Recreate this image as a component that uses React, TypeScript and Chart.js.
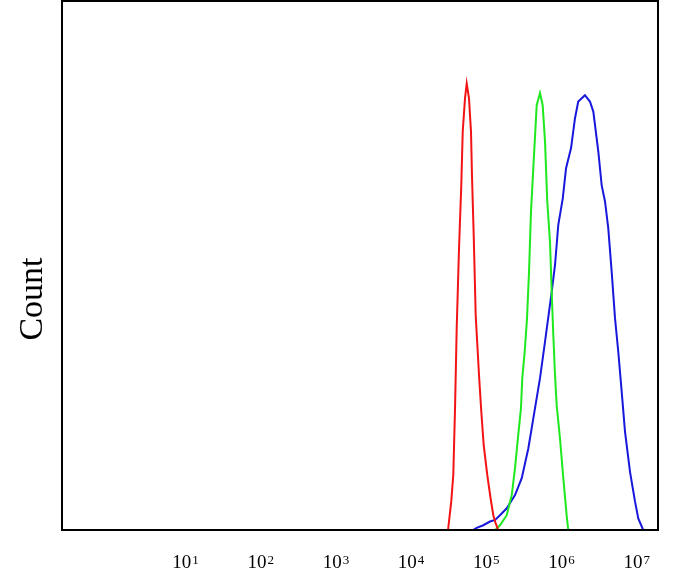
import React, { useEffect, useRef } from "react";
import { Chart, registerables } from "chart.js";

Chart.register(...registerables);

// Tick positions (fluorescence intensity) and their labels (base + exponent)
const TICK_VALUES = [1e1, 1e2, 1e3, 1e4, 1e5, 1e6, 1e7];
const TICK_BASE = "10";
const TICK_EXPONENTS = ["1", "2", "3", "4", "5", "6", "7"];

// Red histogram
const RED_X = [3.10e4, 3.42e4, 3.64e4, 3.84e4, 4.04e4, 4.34e4, 4.65e4, 4.86e4, 5.21e4, 5.49e4, 5.89e4, 6.26e4, 6.45e4, 6.80e4, 7.23e4, 8.00e4, 8.58e4, 9.23e4, 1.03e5, 1.14e5, 1.24e5, 1.33e5, 1.44e5];
const RED_Y = [0, 5.4, 10.4, 23.0, 38.1, 53.3, 65.2, 75.3, 81.6, 84.4, 81.6, 75.3, 67.1, 55.8, 40.6, 29.3, 22.4, 16.1, 10.4, 6.0, 2.8, 1.3, 0];

// Green histogram
const GREEN_X = [1.31e5, 1.52e5, 1.87e5, 2.18e5, 2.41e5, 2.66e5, 2.89e5, 3.01e5, 3.24e5, 3.48e5, 3.70e5, 3.93e5, 4.22e5, 4.68e5, 5.18e5, 5.62e5, 6.04e5, 6.47e5, 7.03e5, 7.41e5, 7.78e5, 8.20e5, 8.63e5, 9.55e5, 1.057e6, 1.17e6, 1.23e6];
const GREEN_Y = [0, 0.9, 2.8, 6.6, 11.7, 18.0, 23.0, 28.7, 33.7, 40.0, 48.8, 60.2, 68.4, 80.3, 82.6, 80.3, 73.4, 62.1, 54.5, 45.0, 36.9, 29.3, 23.6, 17.3, 9.8, 2.8, 0];

// Blue histogram
const BLUE_X = [6.65e4, 7.45e4, 9.12e4, 1.12e5, 1.31e5, 1.52e5, 1.87e5, 2.41e5, 2.96e5, 3.62e5, 4.22e5, 5.18e5, 6.04e5, 7.41e5, 8.20e5, 9.07e5, 1.04e6, 1.15e6, 1.34e6, 1.51e6, 1.67e6, 2.05e6, 2.39e6, 2.65e6, 3.09e6, 3.42e6, 3.79e6, 4.19e6, 4.65e6, 5.15e6, 5.69e6, 6.32e6, 6.99e6, 8.15e6, 9.49e6, 1.05e7, 1.22e7];
const BLUE_Y = [0, 0.4, 0.9, 1.6, 1.9, 2.8, 4.1, 6.6, 9.8, 15.4, 21.1, 28.7, 35.6, 45.0, 50.1, 57.7, 62.7, 68.4, 72.2, 77.8, 81.0, 82.2, 81.0, 79.1, 71.5, 65.2, 62.1, 57.0, 48.8, 40.0, 33.7, 26.1, 18.6, 11.0, 5.4, 2.2, 0];

const Y_TITLE = "Count";
const FONT = '"Liberation Serif", serif';

const toPoints = (xs: number[], ys: number[]) => xs.map((x, i) => ({ x, y: ys[i] }));

const framePlugin = {
  id: "frameAndLabels",
  afterDatasetsDraw(chart: any) {
    const { ctx, chartArea } = chart;
    ctx.save();
    ctx.strokeStyle = "#000";
    ctx.lineWidth = 2;
    ctx.strokeRect(chartArea.left, chartArea.top, chartArea.right - chartArea.left, chartArea.bottom - chartArea.top);
    ctx.restore();
  },
  afterDraw(chart: any) {
    const { ctx, chartArea } = chart;
    const xScale = chart.scales.x;
    ctx.save();
    ctx.fillStyle = "#000";
    ctx.textBaseline = "alphabetic";
    ctx.textAlign = "left";
    const baseY = chartArea.bottom + 38;
    xScale.ticks.forEach((t: any, i: number) => {
      const px = xScale.getPixelForValue(t.value);
      ctx.font = `19px ${FONT}`;
      const w1 = ctx.measureText(TICK_BASE).width;
      ctx.font = `13px ${FONT}`;
      const w2 = ctx.measureText(TICK_EXPONENTS[i]).width;
      const start = px - (w1 + 1 + w2) / 2;
      ctx.font = `19px ${FONT}`;
      ctx.fillText(TICK_BASE, start, baseY);
      ctx.font = `13px ${FONT}`;
      ctx.fillText(TICK_EXPONENTS[i], start + w1 + 1, baseY - 4);
    });
    ctx.restore();

    ctx.save();
    ctx.translate(chartArea.left - 20.5, 299);
    ctx.rotate(-Math.PI / 2);
    ctx.font = `34px ${FONT}`;
    ctx.fillStyle = "#000";
    ctx.textAlign = "center";
    ctx.textBaseline = "alphabetic";
    ctx.fillText(Y_TITLE, 0, 0);
    ctx.restore();
  },
};

export default function App() {
  const ref = useRef<HTMLCanvasElement | null>(null);

  useEffect(() => {
    document.body.style.margin = "0";
    const canvas = ref.current;
    if (!canvas) return;
    const chart = new Chart(canvas, {
      type: "line",
      data: {
        datasets: [
          { label: "Red", data: toPoints(RED_X, RED_Y), borderColor: "#f21414", borderWidth: 2, pointRadius: 0, tension: 0, fill: false },
          { label: "Green", data: toPoints(GREEN_X, GREEN_Y), borderColor: "#1ee81e", borderWidth: 2, pointRadius: 0, tension: 0, fill: false },
          { label: "Blue", data: toPoints(BLUE_X, BLUE_Y), borderColor: "#1818dc", borderWidth: 2, pointRadius: 0, tension: 0, fill: false },
        ],
      },
      options: {
        animation: false,
        responsive: true,
        maintainAspectRatio: false,
        parsing: false as any,
        layout: { padding: { left: 62, top: 1, right: 21, bottom: 0 } },
        plugins: { legend: { display: false }, tooltip: { enabled: false } },
        scales: {
          x: {
            type: "logarithmic",
            min: 0.228,
            max: 1.92e7,
            grid: { display: false, drawTicks: false },
            border: { display: false },
            afterBuildTicks: (scale: any) => {
              scale.ticks = TICK_VALUES.map((v) => ({ value: v }));
            },
            afterFit: (scale: any) => {
              scale.height = 56;
            },
            ticks: { display: false, autoSkip: false },
          },
          y: {
            type: "linear",
            min: 0,
            max: 100,
            display: false,
          },
        },
      },
      plugins: [framePlugin],
    });
    return () => chart.destroy();
  }, []);

  return (
    <div style={{ position: "fixed", left: 0, top: 0, width: 679, height: 586, background: "#fff" }}>
      <canvas ref={ref} />
    </div>
  );
}
